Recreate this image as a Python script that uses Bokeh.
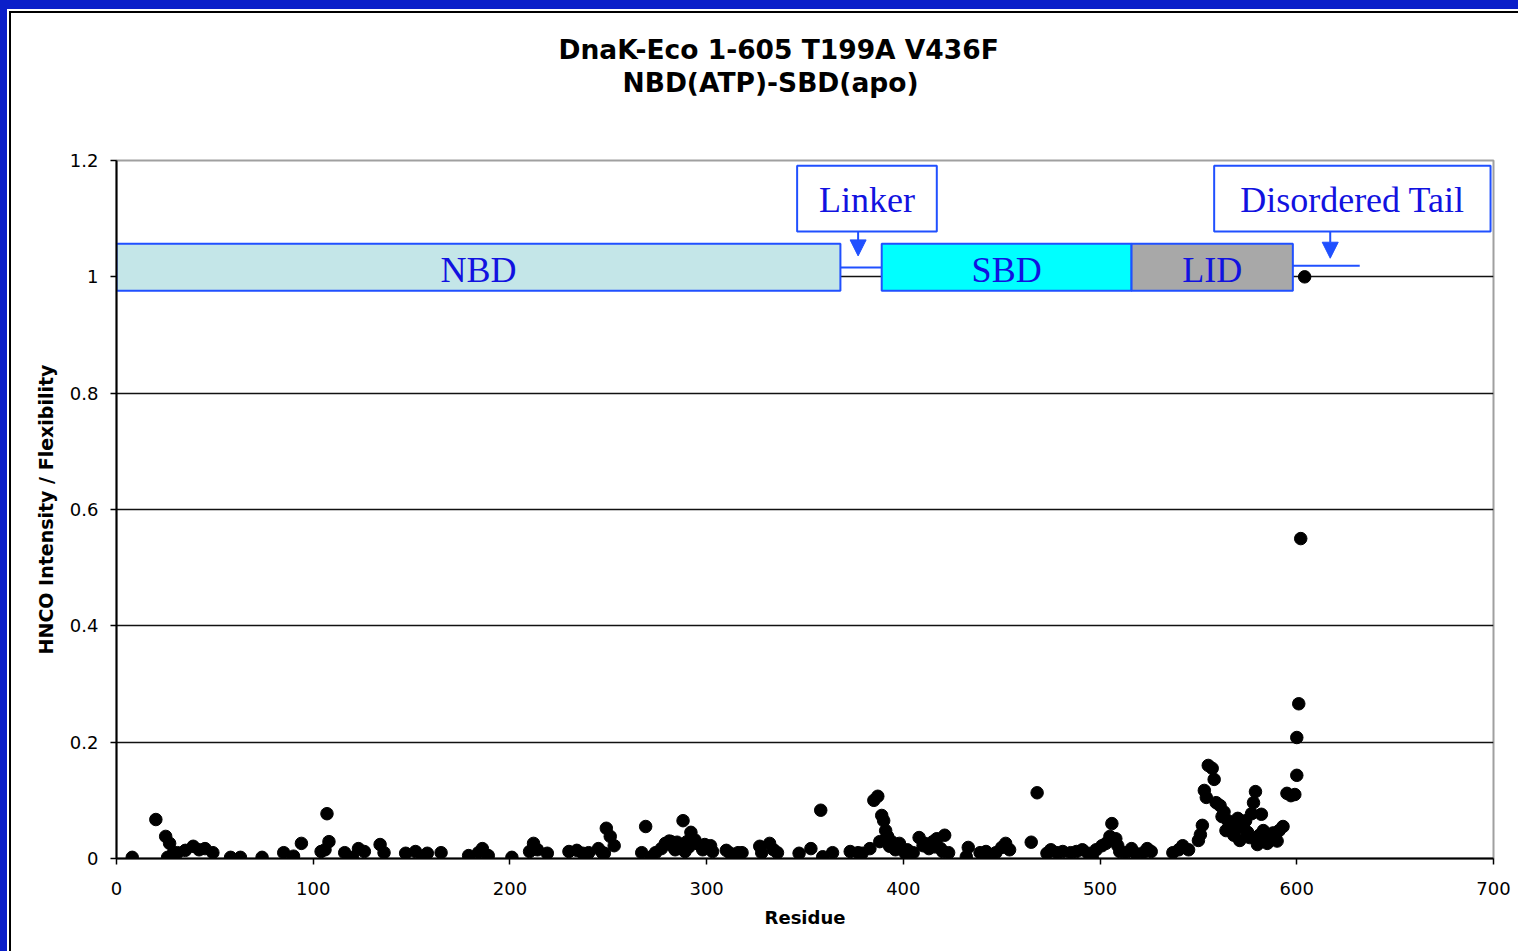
from bokeh.plotting import figure
from bokeh.models import (Range1d, FixedTicker, PrintfTickFormatter, Title,
                          Arrow, NormalHead)
from bokeh.embed import file_html
from bokeh.resources import INLINE
from bokeh.core.properties import value

# ---------------- data ----------------
title_line1 = "DnaK-Eco 1-605 T199A V436F"
title_line2 = "NBD(ATP)-SBD(apo)"
x_label = "Residue"
y_label = "HNCO Intensity / Flexibility"
x_ticks = [0, 100, 200, 300, 400, 500, 600, 700]
y_ticks = [0, 0.2, 0.4, 0.6, 0.8, 1.0, 1.2]

residue = [8, 20, 25, 27, 26, 29, 31, 35, 39, 42, 45, 49, 58, 63, 74, 85, 90, 94,
           104, 107, 108, 106, 116, 120, 123, 126, 134, 136, 147, 152, 156, 158, 165,
           179, 184, 186, 189, 201, 210, 212, 214, 219, 230, 234, 237, 240, 245, 247,
           249, 251, 253, 248, 267, 269, 272, 274, 277, 279, 282, 284, 287, 288, 290,
           292, 295, 297, 300, 302, 303, 310, 312, 316, 318, 327, 328, 332, 334, 336,
           347, 353, 358, 359, 364, 373, 377, 379, 383, 385, 387, 388, 389, 390, 391,
           392, 393, 394, 396, 398, 401, 405, 408, 410, 413, 415, 417, 419, 421, 423,
           432, 433, 439, 442, 444, 447, 450, 452, 454, 465, 468, 473, 475, 478, 481,
           485, 488, 491, 494, 496, 498, 501, 503, 505, 506, 508, 509, 510, 513, 516,
           518, 522, 524, 526, 537, 540, 542, 545, 550, 551, 552, 553, 554, 555, 557,
           558, 559, 561, 562, 564, 565, 567, 568, 570, 571, 573, 574, 575, 577, 578,
           579, 580, 582, 583, 585, 587, 589, 591, 593, 595, 597, 599, 600, 600, 601,
           602, 604,
           281, 285, 291, 294, 298, 299, 283, 289, 402, 411, 416, 420, 563, 566, 569,
           572, 576, 581, 584, 586, 588, 590]
intensity = [0.002, 0.067, 0.038, 0.026, 0.002, 0.010, 0.010, 0.014, 0.021, 0.015,
             0.017, 0.010, 0.002, 0.002, 0.002, 0.010, 0.004, 0.026, 0.012, 0.077,
             0.029, 0.015, 0.010, 0.002, 0.017, 0.012, 0.024, 0.010, 0.009, 0.012,
             0.003, 0.009, 0.010, 0.005, 0.010, 0.017, 0.005, 0.002, 0.012, 0.026,
             0.015, 0.009, 0.012, 0.014, 0.009, 0.010, 0.017, 0.010, 0.052, 0.038,
             0.022, 0.009, 0.010, 0.055, 0.003, 0.010, 0.017, 0.026, 0.029, 0.015,
             0.021, 0.065, 0.029, 0.045, 0.026, 0.022, 0.019, 0.022, 0.012, 0.014,
             0.009, 0.010, 0.010, 0.021, 0.010, 0.026, 0.015, 0.010, 0.009, 0.017,
             0.083, 0.003, 0.010, 0.012, 0.010, 0.009, 0.017, 0.100, 0.107, 0.029,
             0.074, 0.065, 0.048, 0.038, 0.021, 0.029, 0.015, 0.026, 0.009, 0.010,
             0.036, 0.022, 0.017, 0.029, 0.034, 0.017, 0.040, 0.010, 0.003, 0.019,
             0.010, 0.012, 0.005, 0.010, 0.019, 0.026, 0.015, 0.028, 0.113, 0.009,
             0.015, 0.010, 0.012, 0.010, 0.012, 0.015, 0.009, 0.003, 0.015, 0.022,
             0.026, 0.038, 0.060, 0.034, 0.022, 0.012, 0.010, 0.017, 0.009, 0.010,
             0.017, 0.012, 0.010, 0.015, 0.022, 0.015, 0.031, 0.041, 0.057, 0.117,
             0.105, 0.160, 0.155, 0.136, 0.096, 0.091, 0.072, 0.048, 0.065, 0.055,
             0.040, 0.069, 0.031, 0.053, 0.065, 0.045, 0.077, 0.096, 0.115, 0.024,
             0.076, 0.048, 0.026, 0.034, 0.040, 0.048, 0.055, 0.112, 0.108, 0.110,
             0.143, 0.208, 0.266, 0.550, 1.000,
             0.030, 0.028, 0.020, 0.032, 0.015, 0.024, 0.020, 0.012, 0.015, 0.026,
             0.020, 0.012, 0.080, 0.060, 0.050, 0.058, 0.036, 0.040, 0.036, 0.030,
             0.044, 0.030]

domain_names = ["NBD", "SBD", "LID"]
domain_start = [0, 389, 516]
domain_end = [368, 516, 598]
domain_colors = ["#c4e6e8", "#00ffff", "#a8a8a8"]

callout_names = ["Linker", "Disordered Tail"]
callout_left = [346, 558]
callout_right = [417, 698.5]
callout_target = [377, 617]

# ---------------- styles ----------------
BLUE_LINE = "#2050ff"
BLUE_TEXT = "#1212e0"
SERIF = "Liberation Serif"
SANS = "DejaVu Sans"
OFF_X, OFF_Y = 11, 13   # page frame offset

frame_css = {
    "margin-left": f"{OFF_X}px",
    "margin-top": f"{OFF_Y}px",
    "box-shadow": "0 0 0 2px #000000, 0 0 0 4px #ffffff, "
                  f"0 -2px 0 {OFF_X}px #0b1fc9",
}

p = figure(width=1518 - OFF_X, height=951 - OFF_Y,
           x_range=Range1d(0, 700), y_range=Range1d(0, 1.2),
           output_backend="svg", toolbar_location=None,
           min_border_left=116 - OFF_X, min_border_right=25,
           min_border_top=160 - OFF_Y, min_border_bottom=93,
           background_fill_color="white", border_fill_color="white",
           outline_line_color="#a0a0a0", outline_line_width=2,
           styles=frame_css)

p.xgrid.visible = False
p.ygrid.ticker = FixedTicker(ticks=[0.2, 0.4, 0.6, 0.8, 1.0])
p.ygrid.grid_line_color = "#111111"
p.ygrid.grid_line_width = 1.6

for ax in (p.xaxis[0], p.yaxis[0]):
    ax.axis_line_color = "black"
    ax.axis_line_width = 2
    ax.major_tick_line_color = "black"
    ax.major_tick_line_width = 1.5
    ax.major_tick_out = 6
    ax.major_tick_in = 0
    ax.minor_tick_line_color = None
    ax.major_label_text_font = SANS
    ax.major_label_text_font_size = "18px"
    ax.major_label_text_color = "black"
    ax.axis_label_text_font = SANS
    ax.axis_label_text_font_style = "bold"
    ax.axis_label_text_color = "black"

p.xaxis.ticker = FixedTicker(ticks=x_ticks)
p.yaxis.ticker = FixedTicker(ticks=y_ticks)
p.yaxis.formatter = PrintfTickFormatter(format="%g")
p.xaxis.axis_label = x_label
p.yaxis.axis_label = y_label
p.xaxis.axis_label_text_font_size = "18px"
p.yaxis.axis_label_text_font_size = "19px"
p.xaxis.major_label_standoff = 17
p.xaxis.axis_label_standoff = 9
p.yaxis.major_label_standoff = 12
p.yaxis.axis_label_standoff = 10

# domain bar
dom_bottom, dom_top = 0.976, 1.057
p.segment(x0=[domain_end[0], domain_end[2]], y0=[1.016, 1.019],
          x1=[domain_start[1], 632], y1=[1.016, 1.019],
          line_color=BLUE_LINE, line_width=2)
p.quad(left=domain_start, right=domain_end, bottom=dom_bottom, top=dom_top,
       fill_color=domain_colors, line_color=BLUE_LINE, line_width=2)
dom_mid = [(a + b) / 2 for a, b in zip(domain_start, domain_end)]
p.text(x=dom_mid, y=[(dom_bottom + dom_top) / 2 - 0.005] * 3, text=domain_names,
       text_font=value(SERIF), text_font_size="36px", text_color=BLUE_TEXT,
       text_align="center", text_baseline="middle")

# callouts
cb, ct = 1.078, 1.191
p.quad(left=callout_left, right=callout_right, bottom=cb, top=ct,
       fill_color="white", line_color=BLUE_LINE, line_width=2)
call_mid = [(a + b) / 2 for a, b in zip(callout_left, callout_right)]
p.text(x=call_mid, y=[(cb + ct) / 2 - 0.002] * 2, text=callout_names,
       text_font=value(SERIF), text_font_size="36px", text_color=BLUE_TEXT,
       text_align="center", text_baseline="middle")
for xt, ye in zip(callout_target, [1.036, 1.032]):
    p.add_layout(Arrow(x_start=xt, y_start=cb, x_end=xt, y_end=ye,
                       line_color=BLUE_LINE, line_width=2,
                       end=NormalHead(size=16, fill_color=BLUE_LINE,
                                      line_color=BLUE_LINE)))

# data points
p.scatter(residue, intensity, size=12.5, color="black")

# titles (closest to frame first): spacer, line 2, line 1
p.add_layout(Title(text=" ", text_font_size="40px", standoff=17), "above")
p.add_layout(Title(text=title_line2, align="left", offset=506, standoff=0,
                   text_font=SANS, text_font_size="26.5px", text_font_style="bold",
                   text_color="black"), "above")
p.add_layout(Title(text=title_line1, align="left", offset=442, standoff=0,
                   text_font=SANS, text_font_size="26.5px", text_font_style="bold",
                   text_color="black"), "above")

open("out.html", "w").write(file_html(p, INLINE))
